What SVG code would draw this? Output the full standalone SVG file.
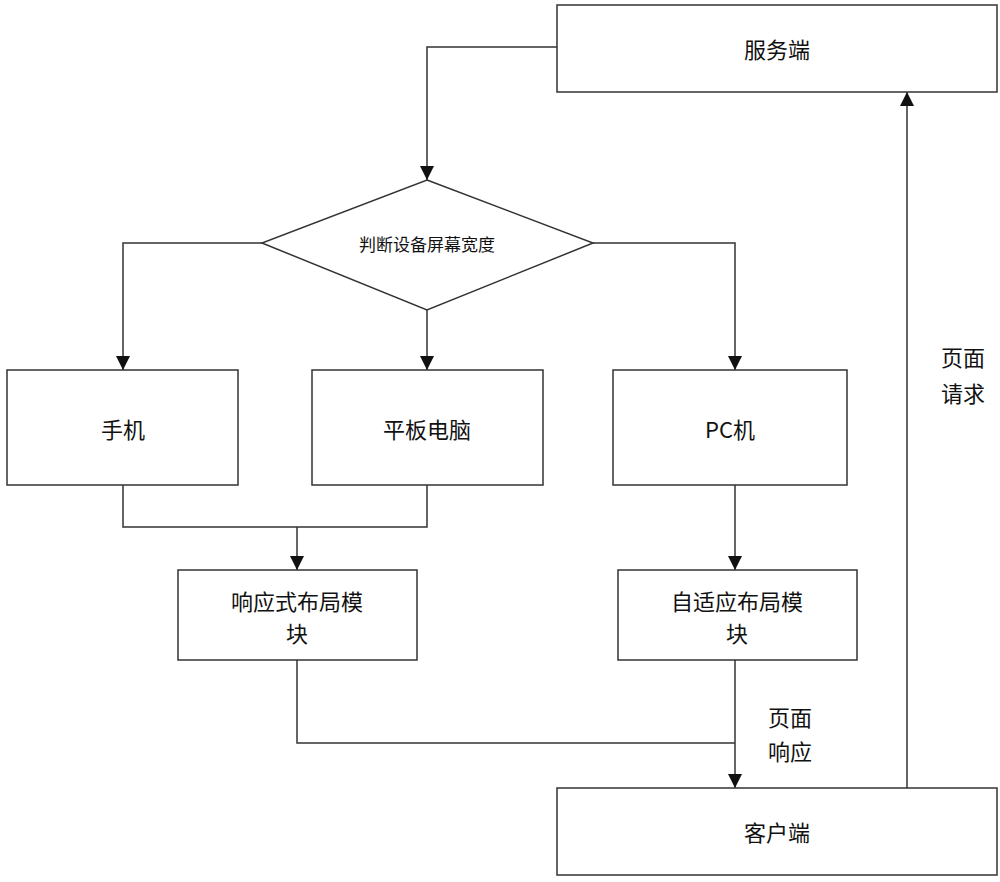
<svg xmlns="http://www.w3.org/2000/svg" width="1000" height="882" viewBox="0 0 1000 882">
<style>
.b{fill:#fff;stroke:#333;stroke-width:1.5}
.l{fill:none;stroke:#333;stroke-width:1.5}
text{font-family:"Noto Sans CJK SC","Liberation Sans",sans-serif;font-size:22px;fill:#111;text-anchor:middle;dominant-baseline:central}
</style>
<defs><marker id="a" viewBox="0 0 10 10" refX="10" refY="5" markerWidth="14" markerHeight="14" markerUnits="userSpaceOnUse" orient="auto"><path d="M0,0L10,5L0,10z" fill="#111"/></marker></defs>
<rect width="1000" height="882" fill="#fff"/>
<g id="connectors">
<polyline class="l" points="557,47 427,47 427,180" marker-end="url(#a)"/>
<polyline class="l" points="262,243 123,243 123,370" marker-end="url(#a)"/>
<polyline class="l" points="427,310 427,370" marker-end="url(#a)"/>
<polyline class="l" points="593,243 735,243 735,370" marker-end="url(#a)"/>
<polyline class="l" points="123,485 123,527 427,527 427,485"/>
<polyline class="l" points="297,527 297,570" marker-end="url(#a)"/>
<polyline class="l" points="735,485 735,570" marker-end="url(#a)"/>
<polyline class="l" points="297,660 297,743 735,743"/>
<polyline class="l" points="735,660 735,788" marker-end="url(#a)"/>
<polyline class="l" points="907,788 907,92" marker-end="url(#a)"/>
<text x="790" y="716">页面</text><text x="790" y="750">响应</text>
<text x="963" y="356">页面</text><text x="963" y="392">请求</text>
</g>
<g id="server"><rect class="b" x="557" y="5" width="440" height="87"/><text x="777" y="48">服务端</text></g>
<g id="decision"><polygon class="b" points="427,180 593,243 427,310 262,243"/><text x="427" y="243" style="font-size:17px">判断设备屏幕宽度</text></g>
<g id="phone"><rect class="b" x="7" y="370" width="231" height="115"/><text x="123" y="428">手机</text></g>
<g id="tablet"><rect class="b" x="312" y="370" width="231" height="115"/><text x="427" y="428">平板电脑</text></g>
<g id="pc"><rect class="b" x="613" y="370" width="234" height="115"/><text x="730" y="428">PC机</text></g>
<g id="responsive"><rect class="b" x="178" y="570" width="239" height="90"/><text x="297" y="600">响应式布局模</text><text x="297" y="632">块</text></g>
<g id="adaptive"><rect class="b" x="618" y="570" width="239" height="90"/><text x="737" y="600">自适应布局模</text><text x="737" y="632">块</text></g>
<g id="client"><rect class="b" x="557" y="788" width="440" height="87"/><text x="777" y="831">客户端</text></g>
</svg>
